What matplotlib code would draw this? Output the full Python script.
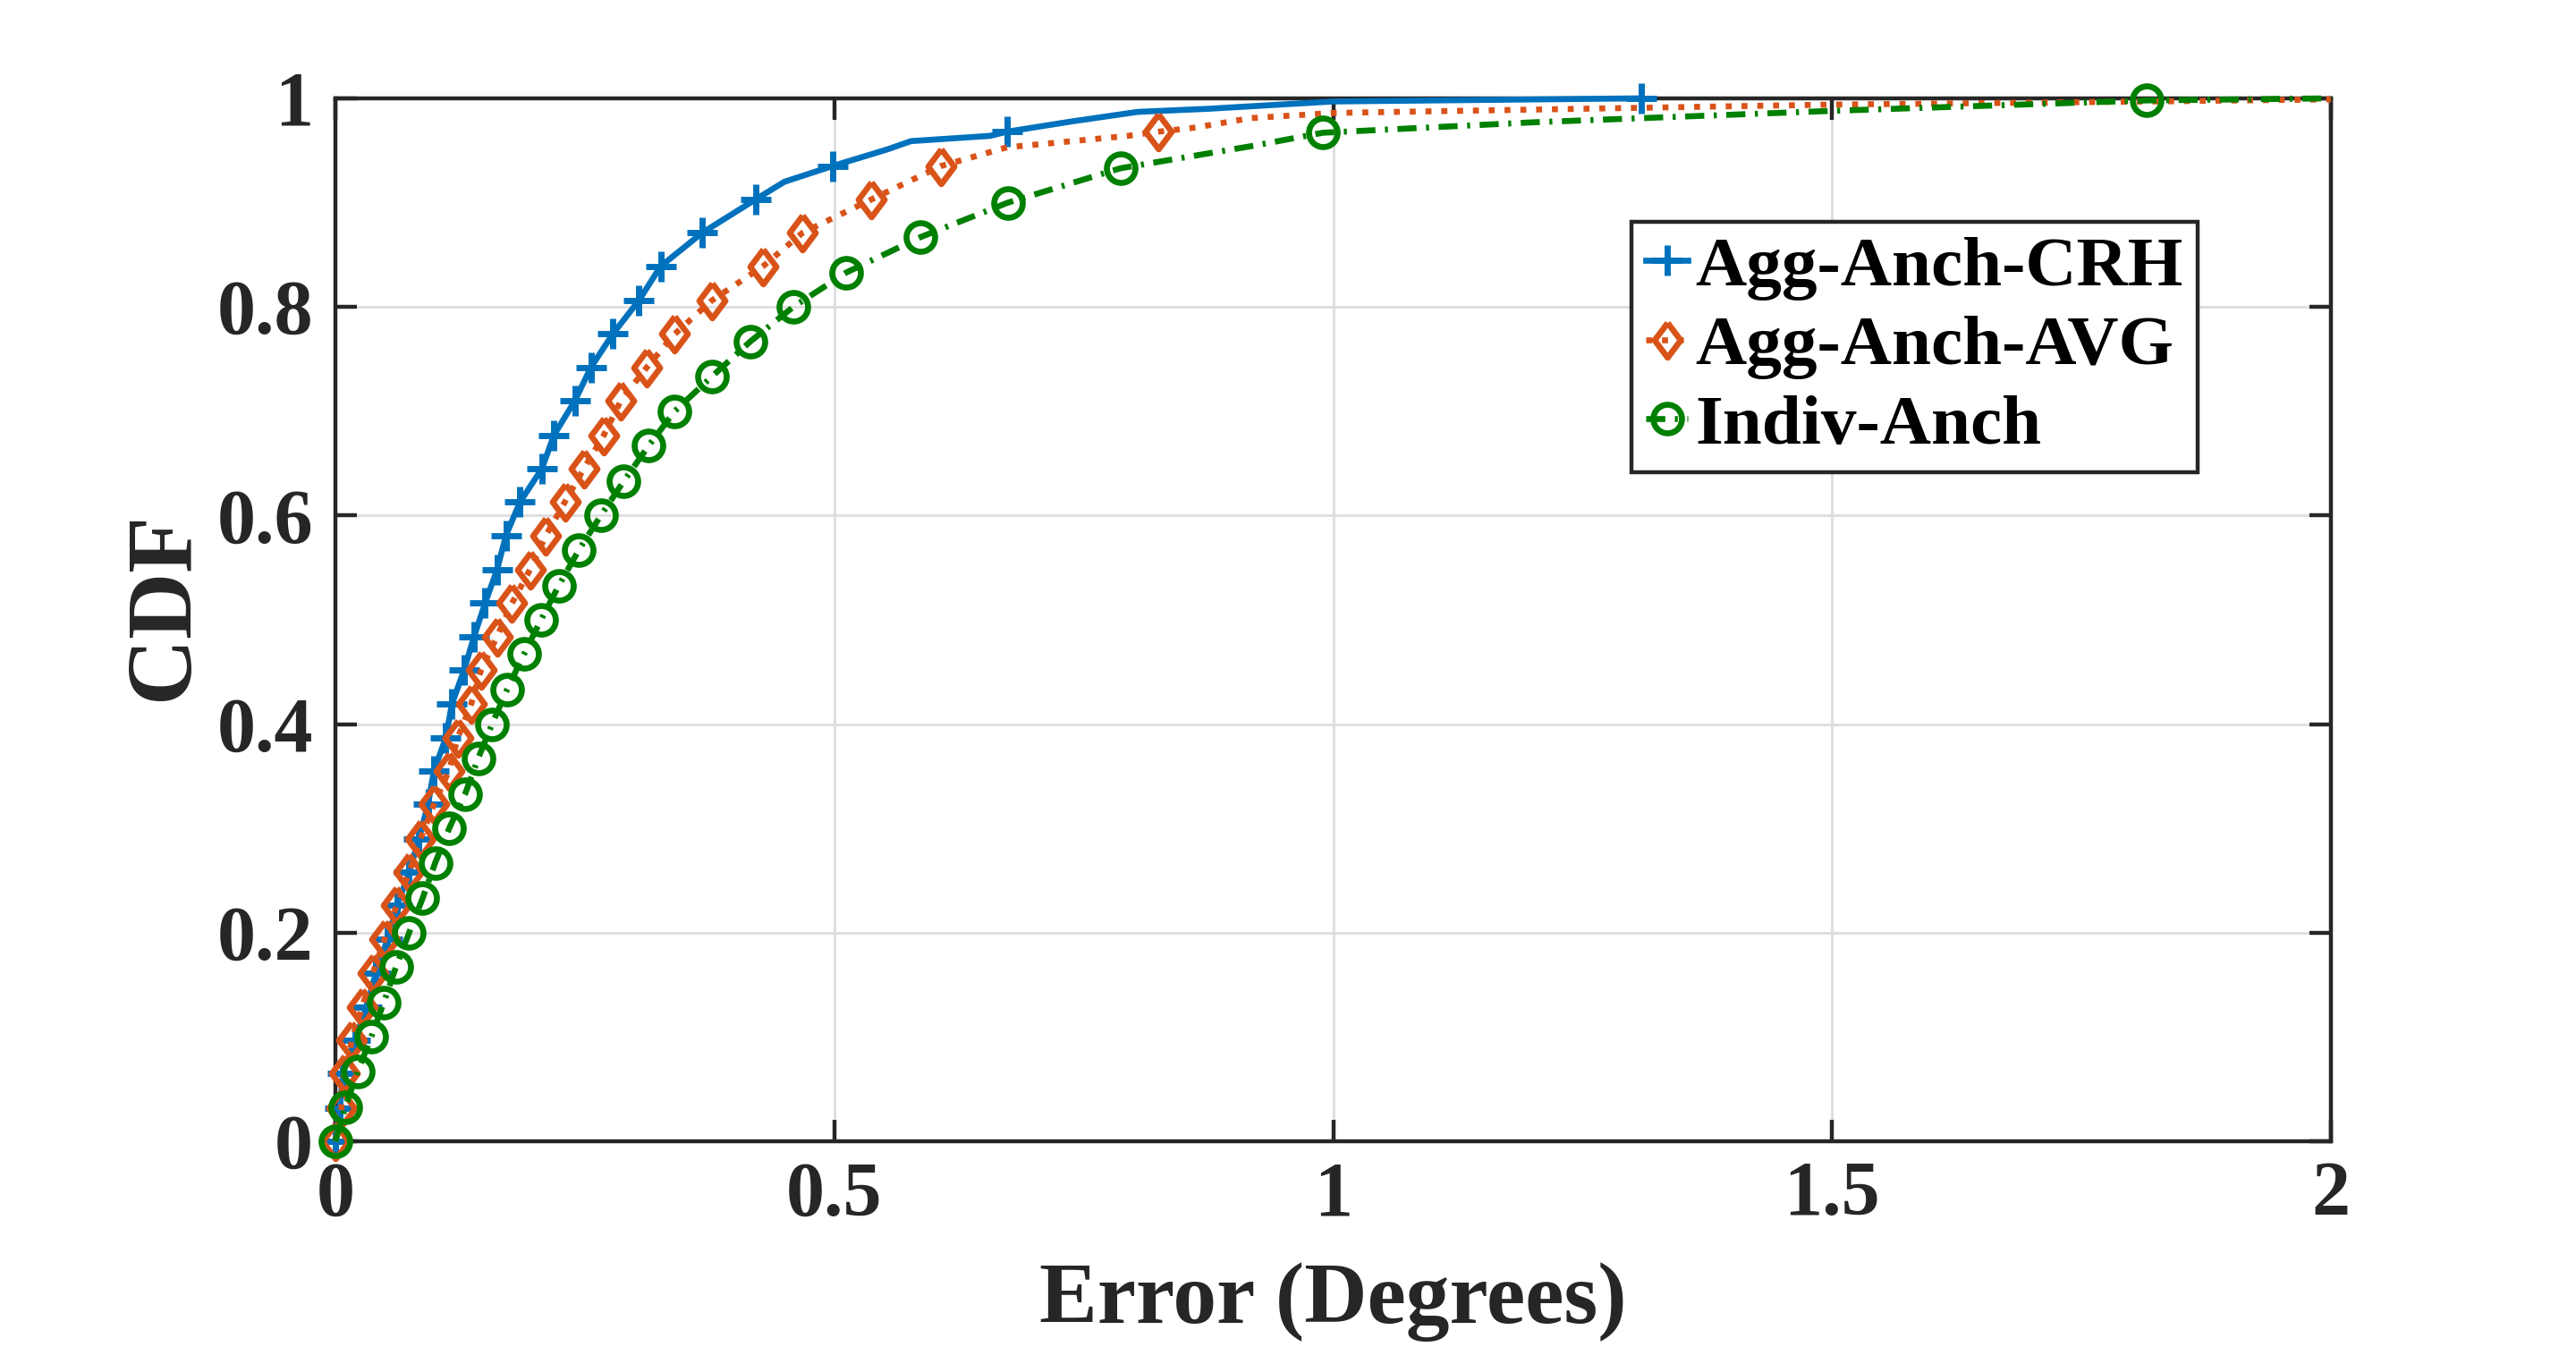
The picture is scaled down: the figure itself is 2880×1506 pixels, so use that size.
import matplotlib
matplotlib.use('Agg')
import matplotlib.pyplot as plt
from matplotlib.ticker import FuncFormatter

# Agg-Anch-CRH: error (deg) and CDF, markers at the sample points
crh_err = [0, 0.0045, 0.0075, 0.0195, 0.0314, 0.0404, 0.0524, 0.0619, 0.0739, 0.0838,
           0.0928, 0.0987, 0.1107, 0.1167, 0.129, 0.139, 0.150, 0.162, 0.171, 0.185,
           0.207, 0.219, 0.240, 0.256, 0.278, 0.304, 0.326, 0.3675, 0.421, 0.45,
           0.498, 0.553, 0.577, 0.656, 0.673, 0.739, 0.804, 0.875, 1.0, 1.309]
crh_cdf = [0, 0.032, 0.065, 0.097, 0.129, 0.161, 0.194, 0.226, 0.258, 0.290,
           0.323, 0.355, 0.387, 0.419, 0.452, 0.484, 0.516, 0.548, 0.581, 0.613,
           0.645, 0.677, 0.710, 0.742, 0.774, 0.806, 0.839, 0.871, 0.903, 0.920,
           0.935, 0.951, 0.959, 0.964, 0.968, 0.978, 0.987, 0.990, 0.997, 1.0]
crh_marks = list(range(29)) + [30, 34, 39]

# Agg-Anch-AVG
avg_err = [0, 0.006, 0.009, 0.0165, 0.0269, 0.0374, 0.0494, 0.0614, 0.0739, 0.0853,
           0.0987, 0.1137, 0.1227, 0.136, 0.146, 0.162, 0.177, 0.195, 0.211, 0.230,
           0.249, 0.269, 0.286, 0.312, 0.340, 0.377, 0.4286, 0.468, 0.537, 0.6066,
           0.673, 0.794, 0.8247, 0.862, 0.917, 1.0, 1.5, 1.82, 2.0]
avg_cdf = [0, 0.032, 0.065, 0.097, 0.129, 0.161, 0.194, 0.226, 0.258, 0.290,
           0.323, 0.355, 0.387, 0.419, 0.452, 0.484, 0.516, 0.548, 0.581, 0.613,
           0.645, 0.677, 0.710, 0.742, 0.774, 0.806, 0.839, 0.871, 0.903, 0.935,
           0.953, 0.964, 0.968, 0.972, 0.981, 0.986, 0.994, 0.997, 0.999]
avg_marks = list(range(30)) + [32]

# Indiv-Anch
ind_err = [0, 0.0099, 0.0224, 0.0359, 0.0485, 0.0607, 0.0739, 0.0874, 0.100, 0.114,
           0.130, 0.143, 0.157, 0.172, 0.189, 0.206, 0.224, 0.244, 0.266, 0.289,
           0.314, 0.340, 0.377, 0.416, 0.4588, 0.512, 0.5866, 0.674, 0.787, 0.92,
           0.9895, 1.2, 1.5, 1.815, 2.0]
ind_cdf = [0, 0.033, 0.067, 0.1, 0.133, 0.167, 0.2, 0.233, 0.267, 0.3,
           0.333, 0.367, 0.4, 0.433, 0.467, 0.5, 0.533, 0.567, 0.6, 0.633,
           0.667, 0.7, 0.733, 0.767, 0.8, 0.833, 0.867, 0.9, 0.933, 0.9545,
           0.967, 0.977, 0.988, 0.998, 1.0]
ind_marks = list(range(29)) + [30, 33]

x_ticks = [0, 0.5, 1, 1.5, 2]
y_ticks = [0, 0.2, 0.4, 0.6, 0.8, 1]

plt.rcParams['font.family'] = ['Liberation Serif', 'DejaVu Serif']
plt.rcParams['font.weight'] = 'bold'

dark = '#262626'
fig = plt.figure(figsize=(14.4, 7.53), dpi=200)
ax = fig.add_axes([0.1302, 0.1527, 0.7747, 0.7743])

diamond = [(0, 1), (0.75, 0), (0, -1), (-0.75, 0), (0, 1)]

ax.plot(crh_err, crh_cdf, color='#0072BD', linestyle='-', linewidth=2.4,
        marker='+', markersize=12.5, markeredgewidth=2.5, markevery=crh_marks,
        clip_on=False, zorder=3, label='Agg-Anch-CRH')
ax.plot(avg_err, avg_cdf, color='#D95319', linestyle=':', linewidth=2.4,
        marker=diamond, markersize=14, markeredgewidth=2.4, markerfacecolor='none',
        markevery=avg_marks, clip_on=False, zorder=3, label='Agg-Anch-AVG')
ax.plot(ind_err, ind_cdf, color='#008000', linestyle=(0, (3.2, 1.6, 0.5, 1.6)), linewidth=2.4,
        marker='o', markersize=11.5, markeredgewidth=2.4, markerfacecolor='none',
        markevery=ind_marks, clip_on=False, zorder=3, label='Indiv-Anch')

ax.set_xlim(0, 2)
ax.set_ylim(0, 1)
ax.set_xticks(x_ticks)
ax.set_yticks(y_ticks)
fmt = FuncFormatter(lambda v, p: '%g' % v)
ax.xaxis.set_major_formatter(fmt)
ax.yaxis.set_major_formatter(fmt)

ax.grid(True, color='#dddddd', linewidth=1.0)
ax.set_axisbelow(True)
for s in ax.spines.values():
    s.set_color(dark)
    s.set_linewidth(1.6)
ax.tick_params(direction='in', length=8.5, width=1.6, colors=dark,
               top=True, right=True, labelsize=31)
ax.tick_params(axis='x', pad=8)
ax.tick_params(axis='y', pad=9)

ax.set_xlabel('Error (Degrees)', fontsize=35, fontweight='bold', color=dark)
ax.set_ylabel('CDF', fontsize=37, fontweight='bold', color=dark)
ax.xaxis.set_label_coords(0.5, -0.1535)
ax.xaxis.label.set_va('center')
ax.yaxis.set_label_coords(-0.0856, 0.513)
ax.yaxis.label.set_va('center')

leg = ax.legend(loc='upper left', bbox_to_anchor=(0.6495, 0.8817),
                prop={'family': 'Liberation Serif', 'weight': 'bold', 'size': 28.5},
                fancybox=False, framealpha=1, edgecolor=dark, borderpad=0.2,
                labelspacing=0.2, handlelength=0.6, handletextpad=0.1,
                borderaxespad=0)
leg.get_frame().set_linewidth(1.6)

fig.savefig('out.png', dpi=200)
